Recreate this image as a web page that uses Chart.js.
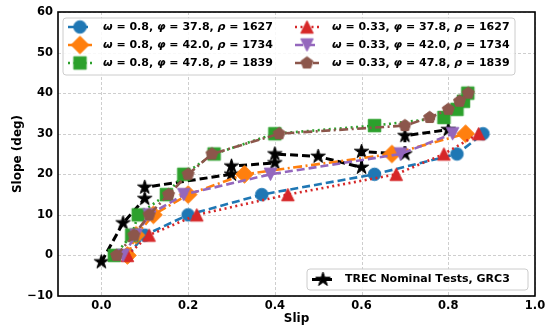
<!DOCTYPE html>
<html>
<head>
<meta charset="utf-8">
<script src="https://cdn.jsdelivr.net/npm/chart.js@4.4.0/dist/chart.umd.min.js"></script>
<style>body{margin:0;background:#fff}</style>
</head>
<body>
<canvas id="chart" width="550" height="329"></canvas>
<script>
// values (slip, slope in deg)
const xTicks = [0, 0.2, 0.4, 0.6, 0.8, 1.0];
const yTicks = [-10, 0, 10, 20, 30, 40, 50, 60];

const blueSlip   = [0.06, 0.10, 0.20, 0.37, 0.63, 0.82, 0.88];
const blueSlope  = [0, 5, 10, 15, 20, 25, 30];
const orangeSlip  = [0.06, 0.08, 0.12, 0.20, 0.33, 0.67, 0.84];
const orangeSlope = [0, 5, 10, 15, 20, 25, 30];
const greenSlip  = [0.03, 0.07, 0.085, 0.15, 0.19, 0.26, 0.40, 0.63, 0.79, 0.82, 0.835, 0.845];
const greenSlope = [0, 5, 10, 15, 20, 25, 30, 32, 34, 36, 38, 40];
const redSlip  = [0.06, 0.11, 0.22, 0.43, 0.68, 0.79, 0.87];
const redSlope = [0, 5, 10, 15, 20, 25, 30];
const purpleSlip  = [0.05, 0.08, 0.11, 0.19, 0.39, 0.69, 0.81];
const purpleSlope = [0, 5, 10, 15, 20, 25, 30];
const brownSlip  = [0.035, 0.075, 0.11, 0.155, 0.20, 0.255, 0.41, 0.70, 0.757, 0.80, 0.826, 0.846];
const brownSlope = [0, 5, 10, 15, 20, 25, 30, 32, 34, 36, 38, 40];
const trecSlip  = [0, 0.05, 0.10, 0.10, 0.30, 0.30, 0.40, 0.40, 0.50, 0.60, 0.60, 0.70, 0.70, 0.80];
const trecSlope = [-1.6, 8, 14, 16.8, 20, 22, 22.8, 25, 24.4, 21.7, 25.6, 25, 29.5, 31];

const pts = (xs, ys) => xs.map((x, i) => ({x: x, y: ys[i]}));

// marker images, matplotlib-like shapes
function marker(shape, color, ms) {
    const size = Math.ceil(ms * 1.5) + 4;
    const c = document.createElement('canvas');
    c.width = c.height = size;
    const g = c.getContext('2d');
    const m = size / 2, r = ms / 2;
    g.fillStyle = color;
    g.strokeStyle = color;
    g.lineWidth = 1;
    g.beginPath();
    if (shape === 'circle') {
        g.arc(m, m, r, 0, Math.PI * 2);
    } else if (shape === 'square') {
        g.rect(m - r, m - r, ms, ms);
    } else if (shape === 'diamond') {
        const d = r * Math.SQRT2;
        g.moveTo(m, m - d); g.lineTo(m + d, m); g.lineTo(m, m + d); g.lineTo(m - d, m);
        g.closePath();
    } else if (shape === 'up' || shape === 'down') {
        const s = shape === 'up' ? 1 : -1;
        g.moveTo(m, m - s * r); g.lineTo(m + r, m + s * r); g.lineTo(m - r, m + s * r);
        g.closePath();
    } else if (shape === 'pentagon') {
        for (let i = 0; i < 5; i++) {
            const a = -Math.PI / 2 + i * 2 * Math.PI / 5;
            g.lineTo(m + r * Math.cos(a), m + r * Math.sin(a));
        }
        g.closePath();
    } else if (shape === 'star') {
        for (let i = 0; i < 10; i++) {
            const a = -Math.PI / 2 + i * Math.PI / 5;
            const rr = i % 2 ? r * 0.381966 : r;
            g.lineTo(m + rr * Math.cos(a), m + rr * Math.sin(a));
        }
        g.closePath();
    }
    g.fill();
    g.stroke();
    return c;
}

const C = {
    blue: '#1f77b4', orange: '#ff7f0e', green: '#2ca02c',
    red: '#d62728', purple: '#9467bd', brown: '#8c564b'
};
const dashed = [8, 4], dotted = [2, 3.5], dashDot = [9, 3.5, 2, 3.5];

function series(label, xs, ys, color, shape, dash, order, ms, lw) {
    return {
        label: label,
        data: pts(xs, ys),
        borderColor: color,
        backgroundColor: color,
        borderWidth: lw || 2.6,
        borderDash: dash,
        pointStyle: marker(shape, color, ms || 12.5),
        pointRadius: 7,
        pointHoverRadius: 7,
        tension: 0,
        fill: false,
        order: order
    };
}

const datasets = [
    series('ω = 0.8, φ = 37.8, ρ = 1627', blueSlip, blueSlope, C.blue, 'circle', dashed, 6),
    series('ω = 0.8, φ = 42.0, ρ = 1734', orangeSlip, orangeSlope, C.orange, 'diamond', dashDot, 5),
    series('ω = 0.8, φ = 47.8, ρ = 1839', greenSlip, greenSlope, C.green, 'square', dotted, 4),
    series('ω = 0.33, φ = 37.8, ρ = 1627', redSlip, redSlope, C.red, 'up', dotted, 3),
    series('ω = 0.33, φ = 42.0, ρ = 1734', purpleSlip, purpleSlope, C.purple, 'down', dashed, 2),
    series('ω = 0.33, φ = 47.8, ρ = 1839', brownSlip, brownSlope, C.brown, 'pentagon', dashDot, 1),
    series('TREC Nominal Tests, GRC3', trecSlip, trecSlope, '#000', 'star', dashed, 7, 15, 3)
];

const FONT = '"DejaVu Sans", sans-serif';

// draws label with the greek letters in italic
function drawLabel(ctx, text, x, y) {
    ctx.textBaseline = 'middle';
    ctx.textAlign = 'left';
    ctx.fillStyle = '#000';
    for (const ch of text) {
        const greek = 'ωφρ'.includes(ch);
        ctx.font = (greek ? 'italic ' : '') + 'bold 11px ' + FONT;
        ctx.fillText(ch, x, y);
        x += ctx.measureText(ch).width;
    }
}

function drawHandle(ctx, ds, x0, x1, y) {
    ctx.save();
    ctx.strokeStyle = ds.borderColor;
    ctx.lineWidth = ds.borderWidth;
    ctx.setLineDash(ds.borderDash);
    ctx.beginPath();
    ctx.moveTo(x0, y);
    ctx.lineTo(x1, y);
    ctx.stroke();
    ctx.restore();
    const img = ds.pointStyle;
    ctx.drawImage(img, (x0 + x1) / 2 - img.width / 2, y - img.height / 2);
}

function legendBox(ctx, x, y, w, h) {
    ctx.save();
    ctx.fillStyle = 'rgba(255,255,255,0.85)';
    ctx.strokeStyle = '#cccccc';
    ctx.lineWidth = 1;
    ctx.beginPath();
    ctx.roundRect(x, y, w, h, 3);
    ctx.fill();
    ctx.stroke();
    ctx.restore();
}

const extras = {
    id: 'extras',
    beforeDatasetsDraw(chart) {
        // dashed grid behind the data
        const ctx = chart.ctx;
        const a = chart.chartArea;
        const sx = chart.scales.x, sy = chart.scales.y;
        ctx.save();
        ctx.strokeStyle = '#c8c8c8';
        ctx.lineWidth = 0.9;
        ctx.setLineDash([3, 2]);
        ctx.beginPath();
        xTicks.forEach(v => {
            const px = Math.round(sx.getPixelForValue(v)) + 0.5;
            ctx.moveTo(px, a.top); ctx.lineTo(px, a.bottom);
        });
        yTicks.forEach(v => {
            const py = Math.round(sy.getPixelForValue(v)) + 0.5;
            ctx.moveTo(a.left, py); ctx.lineTo(a.right, py);
        });
        ctx.stroke();
        ctx.restore();
    },
    afterDraw(chart) {
        const ctx = chart.ctx;
        const a = chart.chartArea;
        const ds = chart.data.datasets;

        // frame
        ctx.save();
        ctx.strokeStyle = '#000';
        ctx.lineWidth = 1.6;
        ctx.strokeRect(a.left, a.top, a.right - a.left, a.bottom - a.top);
        ctx.restore();

        // axis titles
        ctx.save();
        ctx.fillStyle = '#000';
        ctx.font = 'bold 12px ' + FONT;
        ctx.textAlign = 'center';
        ctx.textBaseline = 'middle';
        ctx.fillText('Slip', (a.left + a.right) / 2, 319);
        ctx.translate(18, (a.top + a.bottom) / 2);
        ctx.rotate(-Math.PI / 2);
        ctx.fillText('Slope (deg)', 0, 0);
        ctx.restore();

        // main legend, two columns
        legendBox(ctx, 63, 18, 452, 57);
        const rows = [27, 45, 63];
        for (let i = 0; i < 6; i++) {
            const col = Math.floor(i / 3), y = rows[i % 3];
            const hx = col ? 295 : 68;
            drawHandle(ctx, ds[i], hx, hx + 24, y);
            drawLabel(ctx, ds[i].label, col ? 332 : 103, y);
        }

        // TREC legend
        legendBox(ctx, 307, 269, 221, 21);
        drawHandle(ctx, ds[6], 312, 334, 279.5);
        drawLabel(ctx, ds[6].label, 345, 279.5);
    }
};

new Chart(document.getElementById('chart'), {
    type: 'line',
    data: { datasets: datasets },
    options: {
        responsive: false,
        devicePixelRatio: 1,
        animation: false,
        layout: { padding: { left: 0, right: 15, top: 12, bottom: 0 } },
        plugins: { legend: { display: false }, tooltip: { enabled: false } },
        scales: {
            x: {
                type: 'linear',
                min: -0.1,
                max: 1.0,
                afterBuildTicks: s => { s.ticks = xTicks.map(v => ({ value: v })); },
                afterFit: s => { s.height = 33; },
                ticks: {
                    callback: v => v.toFixed(1),
                    color: '#000',
                    font: { family: FONT, size: 11.5, weight: 'bold' },
                    padding: 3,
                    maxRotation: 0
                },
                grid: { color: 'rgba(0,0,0,0)', drawTicks: false },
                border: { display: false }
            },
            y: {
                min: -10,
                max: 60,
                afterBuildTicks: s => { s.ticks = yTicks.map(v => ({ value: v })); },
                afterFit: s => { s.width = 58; },
                ticks: {
                    callback: v => (v < 0 ? '\u2212' + Math.abs(v) : String(v)),
                    color: '#000',
                    font: { family: FONT, size: 11.5, weight: 'bold' },
                    padding: 5
                },
                grid: { color: 'rgba(0,0,0,0)', drawTicks: false },
                border: { display: false }
            }
        }
    },
    plugins: [extras]
});
</script>
</body>
</html>
